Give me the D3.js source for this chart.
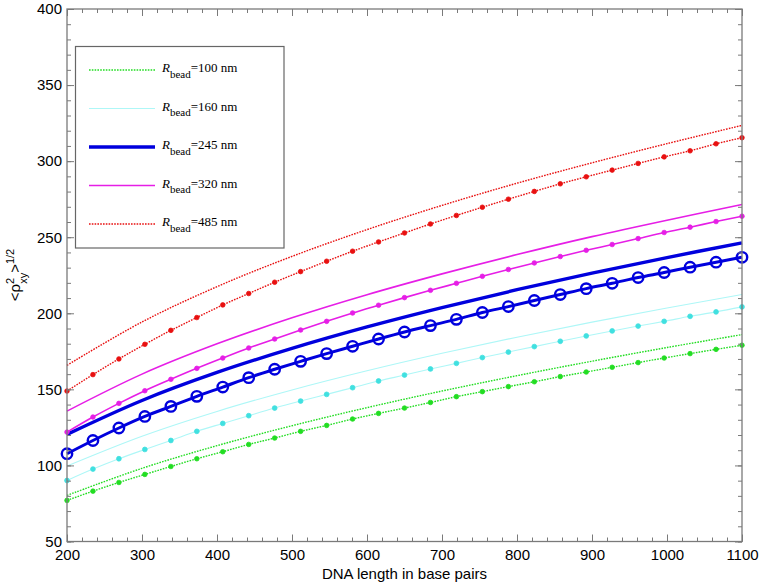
<!DOCTYPE html>
<html><head><meta charset="utf-8">
<script src="https://cdn.jsdelivr.net/npm/d3@7"></script>
<style>body{margin:0;background:#fff}svg{display:block}</style>
</head><body>
<svg id="c" width="763" height="586"></svg>
<script>
// ---- data ----
const beadRadii = ["100", "160", "245", "320", "485"];
const xLine = [200, 300, 400, 500, 600, 700, 800, 900, 1000, 1100];
const xMarked = [200.0, 234.6, 269.2, 303.8, 338.5, 373.1, 407.7, 442.3, 476.9, 511.5, 546.2, 580.8, 615.4, 650.0,
  684.6, 719.2, 753.8, 788.5, 823.1, 857.7, 892.3, 926.9, 961.5, 996.2, 1030.8, 1065.4, 1100.0];

const line100 = [80.3, 98.1, 113.0, 126.1, 138.0, 148.9, 159.0, 168.5, 177.5, 186.0];
const line160 = [99.6, 119.2, 135.5, 149.6, 162.2, 173.7, 184.3, 194.2, 203.5, 212.3];
const line245 = [120.4, 142.7, 161.1, 176.9, 191.0, 203.7, 215.5, 226.4, 236.6, 246.3];
const line320 = [135.7, 160.0, 179.9, 197.0, 212.2, 225.9, 238.6, 250.4, 261.2, 271.5];
const line485 = [165.8, 194.3, 217.5, 237.4, 255.0, 270.9, 285.5, 298.9, 311.5, 323.5];

const marked100 = [77.0, 83.1, 88.8, 94.1, 99.3, 104.4, 109.0, 113.8, 118.0, 122.4, 126.3, 130.5, 134.2, 137.7,
  141.4, 145.2, 148.5, 151.8, 155.0, 158.4, 161.4, 164.5, 167.6, 170.6, 173.5, 176.3, 179.0];
const marked160 = [90.1, 97.6, 104.4, 110.5, 116.4, 122.4, 127.6, 132.7, 137.7, 142.3, 146.7, 151.1, 155.5, 159.4,
  163.4, 167.1, 170.9, 174.5, 178.1, 181.6, 185.1, 188.4, 191.6, 194.7, 198.0, 200.9, 204.2];
const marked245 = [107.7, 116.4, 124.6, 132.2, 138.8, 145.4, 151.5, 157.7, 163.2, 168.4, 173.5, 178.3, 183.1, 187.7,
  191.9, 196.0, 200.5, 204.4, 208.4, 212.3, 216.2, 219.7, 223.5, 226.8, 230.3, 233.6, 236.8];
const marked320 = [121.9, 131.8, 140.8, 149.1, 156.6, 163.8, 170.6, 177.2, 183.1, 189.0, 194.7, 200.2, 205.3, 210.3,
  215.1, 219.7, 224.3, 228.8, 233.1, 237.3, 241.4, 245.2, 249.1, 253.1, 256.6, 260.3, 263.8];
const marked485 = [148.9, 159.7, 170.0, 179.6, 188.8, 197.2, 205.5, 213.0, 220.4, 227.4, 234.2, 240.8, 246.9, 252.8,
  258.7, 264.3, 269.7, 275.0, 280.1, 285.1, 289.7, 294.1, 298.5, 302.8, 306.8, 311.4, 315.4];

const xTicks = [200, 300, 400, 500, 600, 700, 800, 900, 1000, 1100];
const yTicks = [50, 100, 150, 200, 250, 300, 350, 400];
const xMinor = d3.range(200, 1101, 20);
const yMinor = d3.range(50, 401, 10);

// ---- styles ----
const styles = [
  {line: "#22dd22", mark: "#22dd22", w: 1.4, dash: "1.6,1.2", r: 2.3, open: false},
  {line: "#aef7f7", mark: "#40e0e0", w: 1.1, dash: null, r: 2.4, open: false},
  {line: "#0000dd", mark: "#0000dd", w: 3.4, dash: null, r: 5.2, open: true},
  {line: "#e61ee6", mark: "#e61ee6", w: 1.6, dash: null, r: 2.3, open: false},
  {line: "#e81010", mark: "#e81010", w: 1.4, dash: "1.6,1.2", r: 2.3, open: false}
];
const lines = [line100, line160, line245, line320, line485];
const marked = [marked100, marked160, marked245, marked320, marked485];

const svg = d3.select("#c");
const L = 67, R = 742, T = 9, B = 541.5;
const x = d3.scaleLinear().domain([200, 1100]).range([L, R]);
const y = d3.scaleLinear().domain([50, 400]).range([B, T]);
const axisColor = "#7a7a7a";
const sans = "'Liberation Sans', Arial, sans-serif";
const serif = "'Liberation Serif', 'Times New Roman', serif";

// plot
const g = svg.append("g");
const smoothGen = d3.line().x(d => x(d[0])).y(d => y(d[1])).curve(d3.curveCatmullRom);
const lineGen = d3.line().x(d => x(d[0])).y(d => y(d[1])).curve(d3.curveMonotoneX);

lines.forEach((vals, i) => {
  const s = styles[i];
  g.append("path").datum(xLine.map((xv, j) => [xv, vals[j]]))
    .attr("d", smoothGen).attr("fill", "none").attr("stroke", s.line)
    .attr("stroke-width", s.w).attr("stroke-dasharray", s.dash);
});
marked.forEach((vals, i) => {
  const s = styles[i];
  const pts = xMarked.map((xv, j) => [xv, vals[j]]);
  g.append("path").datum(pts).attr("d", lineGen).attr("fill", "none")
    .attr("stroke", s.line).attr("stroke-width", i === 2 ? 3.0 : s.w)
    .attr("stroke-dasharray", s.dash);
  g.selectAll(null).data(pts).join("circle")
    .attr("cx", d => x(d[0])).attr("cy", d => y(d[1])).attr("r", s.r)
    .attr("fill", s.open ? "none" : s.mark)
    .attr("stroke", s.mark).attr("stroke-width", s.open ? 2.4 : 0.8);
});

// axes
function styleAxis(sel) {
  sel.select(".domain").remove();
  sel.selectAll(".tick line").attr("stroke", axisColor).attr("stroke-width", 1);
  sel.selectAll(".tick text").attr("fill", "#000").style("font-family", sans).style("font-size", "15px");
}
svg.append("g").attr("transform", `translate(0,${B})`)
  .call(d3.axisBottom(x).tickValues(xTicks).tickSizeInner(-7).tickSizeOuter(0).tickPadding(8).tickFormat(d3.format("d")))
  .call(styleAxis);
svg.append("g").attr("transform", `translate(0,${B})`)
  .call(d3.axisBottom(x).tickValues(xMinor).tickSizeInner(-4).tickSizeOuter(0).tickFormat(""))
  .call(styleAxis);
svg.append("g").attr("transform", `translate(0,${T})`)
  .call(d3.axisTop(x).tickValues(xTicks).tickSizeInner(-7).tickSizeOuter(0).tickFormat(""))
  .call(styleAxis);
svg.append("g").attr("transform", `translate(0,${T})`)
  .call(d3.axisTop(x).tickValues(xMinor).tickSizeInner(-4).tickSizeOuter(0).tickFormat(""))
  .call(styleAxis);
svg.append("g").attr("transform", `translate(${L},0)`)
  .call(d3.axisLeft(y).tickValues(yTicks).tickSizeInner(-7).tickSizeOuter(0).tickPadding(5).tickFormat(d3.format("d")))
  .call(styleAxis);
svg.append("g").attr("transform", `translate(${L},0)`)
  .call(d3.axisLeft(y).tickValues(yMinor).tickSizeInner(-4).tickSizeOuter(0).tickFormat(""))
  .call(styleAxis);
svg.append("g").attr("transform", `translate(${R},0)`)
  .call(d3.axisRight(y).tickValues(yTicks).tickSizeInner(-7).tickSizeOuter(0).tickFormat(""))
  .call(styleAxis);
svg.append("g").attr("transform", `translate(${R},0)`)
  .call(d3.axisRight(y).tickValues(yMinor).tickSizeInner(-4).tickSizeOuter(0).tickFormat(""))
  .call(styleAxis);
svg.append("rect").attr("x", L).attr("y", T).attr("width", R - L).attr("height", B - T)
  .attr("fill", "none").attr("stroke", axisColor).attr("stroke-width", 1.3);

// axis titles
svg.append("text").attr("x", (L + R) / 2).attr("y", 579).attr("text-anchor", "middle")
  .style("font-family", sans).style("font-size", "15px").text("DNA length in base pairs");

const yl = svg.append("text").attr("transform", "translate(20,275) rotate(-90)")
  .attr("text-anchor", "middle").style("font-family", sans).style("font-size", "15px");
yl.append("tspan").text("<ρ");
yl.append("tspan").attr("dy", -6).style("font-size", "11px").text("2");
yl.append("tspan").attr("dx", -6).attr("dy", 13).style("font-size", "11px").text("xy");
yl.append("tspan").attr("dy", -7).text(">");
yl.append("tspan").attr("dy", -6).style("font-size", "11px").text("1/2");

// legend
const lg = svg.append("g");
lg.append("rect").attr("x", 75.5).attr("y", 46.5).attr("width", 208.5).attr("height", 201.5)
  .attr("fill", "#fff").attr("stroke", "#666").attr("stroke-width", 1.2);
const legY = d3.scalePoint().domain(beadRadii).range([70, 224]);
beadRadii.forEach((r, i) => {
  const s = styles[i];
  const yy = legY(r);
  lg.append("line").attr("x1", 89).attr("x2", 155).attr("y1", yy).attr("y2", yy)
    .attr("stroke", s.line).attr("stroke-width", s.w).attr("stroke-dasharray", s.dash);
  const t = lg.append("text").attr("x", 162).attr("y", yy + 2)
    .style("font-family", serif).style("font-size", "13px");
  t.append("tspan").style("font-style", "italic").text("R");
  t.append("tspan").attr("dy", 5.5).style("font-size", "11px").text("bead");
  t.append("tspan").attr("dy", -5.5).text("=" + r + " nm");
});
</script>
</body></html>
